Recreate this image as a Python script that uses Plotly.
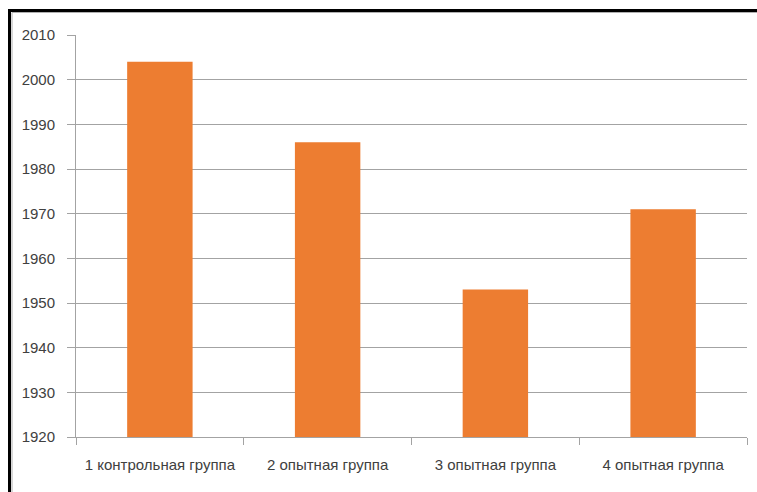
import plotly.graph_objects as go

# Group labels and measured values
groups = ["1 контрольная группа", "2 опытная группа", "3 опытная группа", "4 опытная группа"]
values = [2004, 1986, 1953, 1971]
y_ticks = [1920, 1930, 1940, 1950, 1960, 1970, 1980, 1990, 2000, 2010]

W, H = 757, 492
ML, MR, MT, MB = 76, 10, 35, 55
pw = W - ML - MR
ph = H - MT - MB

def px_to_paper_x(px):
    return (px - ML) / pw

def px_to_paper_y(py):
    return (H - MB - py) / ph

fig = go.Figure(
    go.Bar(
        x=groups,
        y=values,
        marker=dict(color="#ED7D31", line=dict(width=0)),
        hoverinfo="x+y",
    )
)

grid_col = "#A3A3A3"
label_font = dict(family="Liberation Sans, Arial", size=15, color="#404040")

fig.update_layout(
    width=W,
    height=H,
    margin=dict(l=ML, r=MR, t=MT, b=MB),
    paper_bgcolor="white",
    plot_bgcolor="white",
    bargap=0.61,
    showlegend=False,
    xaxis=dict(
        showgrid=False,
        showline=True,
        linecolor=grid_col,
        linewidth=1,
        ticks="outside",
        tickson="boundaries",
        ticklen=7,
        tickcolor=grid_col,
        tickfont=label_font,
        ticklabelstandoff=14,
        fixedrange=True,
    ),
    yaxis=dict(
        range=[1920, 2010],
        tickvals=y_ticks,
        showgrid=True,
        gridcolor=grid_col,
        gridwidth=1,
        showline=True,
        linecolor=grid_col,
        linewidth=1,
        ticks="outside",
        ticklen=8,
        tickcolor=grid_col,
        tickfont=label_font,
        ticklabelstandoff=9,
        zeroline=False,
        fixedrange=True,
    ),
)

# Frame around the chart (black border with a faint gray inner edge)
fig.add_shape(
    type="rect",
    xref="paper", yref="paper",
    x0=px_to_paper_x(12), x1=px_to_paper_x(W + 20),
    y0=px_to_paper_y(H + 20), y1=px_to_paper_y(12.5),
    line=dict(color="#B0B0B0", width=1),
    fillcolor="rgba(0,0,0,0)",
    layer="below",
)
fig.add_shape(
    type="rect",
    xref="paper", yref="paper",
    x0=px_to_paper_x(9.5), x1=px_to_paper_x(W + 20),
    y0=px_to_paper_y(H + 20), y1=px_to_paper_y(10.5),
    line=dict(color="black", width=3),
    fillcolor="rgba(0,0,0,0)",
    layer="above",
)

fig.write_html("out.html")
